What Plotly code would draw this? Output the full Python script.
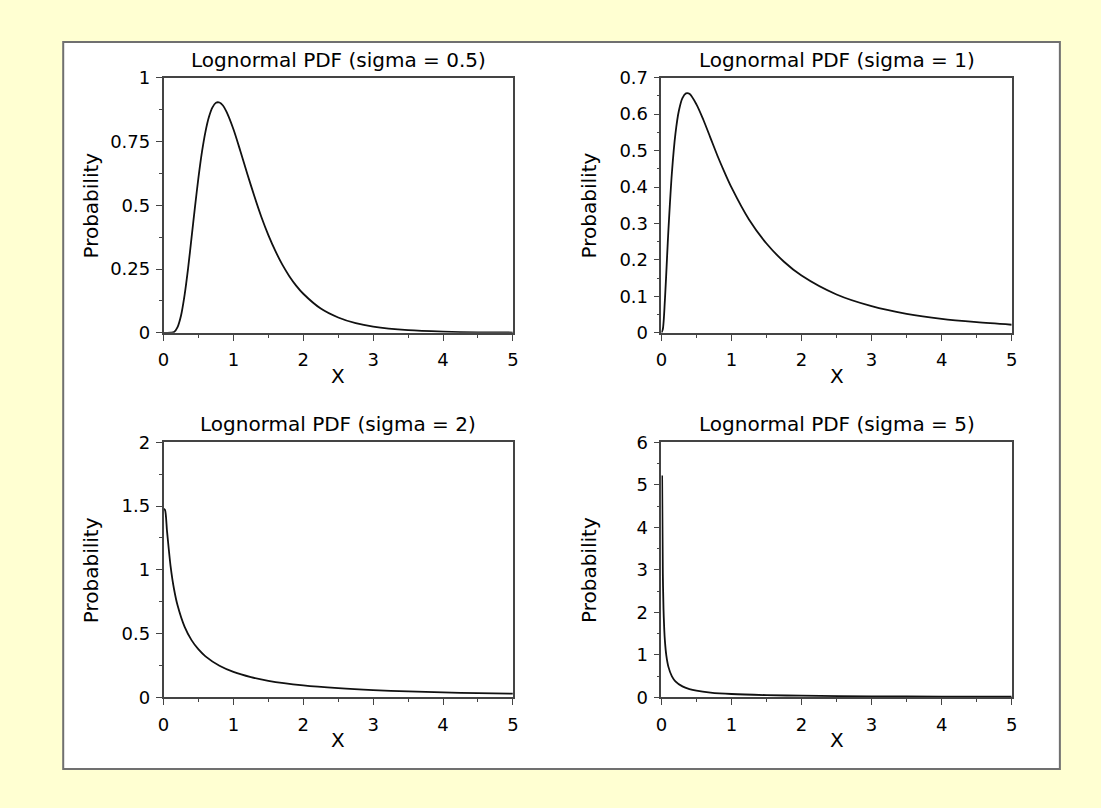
import plotly.graph_objects as go

W, H = 1101, 808

# ---- data ----
titles = ["Lognormal PDF (sigma = 0.5)", "Lognormal PDF (sigma = 1)",
          "Lognormal PDF (sigma = 2)", "Lognormal PDF (sigma = 5)"]

x1 = [0, 0.1, 0.15, 0.2, 0.25, 0.3, 0.35, 0.4, 0.45, 0.5, 0.55, 0.6, 0.65, 0.7, 0.75, 0.8,
      0.85, 0.9, 1.0, 1.1, 1.2, 1.3, 1.4, 1.5, 1.6, 1.7, 1.8, 1.9, 2.0, 2.25, 2.5, 2.75,
      3.0, 3.5, 4.0, 4.5, 5.0]
y1 = [0, 0.0002, 0.003, 0.0225, 0.068, 0.147, 0.251, 0.372, 0.495, 0.61, 0.71, 0.789,
      0.847, 0.884, 0.902, 0.903, 0.891, 0.867, 0.798, 0.712, 0.622, 0.535, 0.454, 0.383,
      0.321, 0.267, 0.222, 0.184, 0.153, 0.095, 0.060, 0.0375, 0.024, 0.010, 0.0043,
      0.0019, 0.0009]

x2 = [0, 0.02, 0.05, 0.08, 0.1, 0.15, 0.2, 0.25, 0.3, 0.35, 0.4, 0.5, 0.6, 0.7, 0.8, 0.9,
      1.0, 1.25, 1.5, 1.75, 2.0, 2.5, 3.0, 3.5, 4.0, 4.5, 5.0]
y2 = [0, 0.0095, 0.090, 0.205, 0.282, 0.440, 0.546, 0.610, 0.644, 0.657, 0.656, 0.627,
      0.584, 0.535, 0.486, 0.441, 0.399, 0.311, 0.245, 0.195, 0.157, 0.105, 0.073, 0.052,
      0.038, 0.029, 0.022]

x3 = [0, 0.02, 0.05, 0.1, 0.15, 0.2, 0.3, 0.4, 0.5, 0.6, 0.8, 1.0, 1.25, 1.5, 2.0, 2.5,
      3.0, 3.5, 4.0, 4.5, 5.0]
y3 = [1.48, 1.47, 1.30, 1.03, 0.848, 0.722, 0.555, 0.449, 0.376, 0.322, 0.248, 0.200,
      0.159, 0.130, 0.094, 0.072, 0.057, 0.047, 0.039, 0.033, 0.029]

x4 = [0.01, 0.02, 0.03, 0.04, 0.05, 0.07, 0.1, 0.15, 0.2, 0.3, 0.4, 0.5, 0.7, 1.0, 1.5,
      2.0, 3.0, 4.0, 5.0]
y4 = [5.22, 2.94, 2.08, 1.62, 1.33, 0.99, 0.718, 0.495, 0.379, 0.258, 0.196, 0.158,
      0.114, 0.080, 0.053, 0.040, 0.026, 0.019, 0.015]

x_ticks = [0, 1, 2, 3, 4, 5]
y_ticks = [
    [0, 0.25, 0.5, 0.75, 1],
    [0, 0.1, 0.2, 0.3, 0.4, 0.5, 0.6, 0.7],
    [0, 0.5, 1, 1.5, 2],
    [0, 1, 2, 3, 4, 5, 6],
]
y_ticktext = [
    ["0", "0.25", "0.5", "0.75", "1"],
    ["0", "0.1", "0.2", "0.3", "0.4", "0.5", "0.6", "0.7"],
    ["0", "0.5", "1", "1.5", "2"],
    ["0", "1", "2", "3", "4", "5", "6"],
]
y_ranges = [[0, 1], [0, 0.7], [0, 2], [0, 6]]
y_minor = [0.125, 0.05, 0.25, 0.5]
x_label = "X"
y_label = "Probability"

# ---- layout geometry (screen pixels) ----
boxes = [  # left, right, top, bottom
    (165, 513, 77, 333),
    (661, 1010, 77, 333),
    (165, 513, 443, 699),
    (661, 1010, 443, 699),
]

# the rendered plotting "paper" sits slightly inset in the page; map screen px -> paper
PX0, PX1 = 8.0, 1093.0
PY0, PY1 = 10.0, 800.0


def px(x):
    return (x - PX0) / (PX1 - PX0)


def py(y):
    return 1 - (y - PY0) / (PY1 - PY0)


FONT = "DejaVu Sans"
AX = "#444444"

fig = go.Figure()
series = [(x1, y1), (x2, y2), (x3, y3), (x4, y4)]
for i, (xs, ys) in enumerate(series):
    sfx = "" if i == 0 else str(i + 1)
    fig.add_trace(go.Scatter(x=xs, y=ys, mode="lines",
                             line=dict(color="#111111", width=1.8, shape="spline", smoothing=0.8),
                             xaxis="x" + sfx, yaxis="y" + sfx, showlegend=False,
                             hoverinfo="skip"))

layout = dict(width=W, height=H, margin=dict(l=0, r=0, t=0, b=0, pad=0),
              paper_bgcolor="#FFFFD2", plot_bgcolor="white", showlegend=False)

annotations = []
for i, (l, r, t, b) in enumerate(boxes):
    sfx = "" if i == 0 else str(i + 1)
    common = dict(showline=True, linecolor=AX, linewidth=1.5, mirror=True,
                  ticks="outside", ticklen=6, tickwidth=1.2, tickcolor=AX,
                  showgrid=False, zeroline=False,
                  tickfont=dict(family=FONT, size=18, color="black"))
    layout["xaxis" + sfx] = dict(common, domain=[px(l), px(r)], range=[0, 5],
                                 anchor="y" + sfx, tickmode="array", tickvals=x_ticks,
                                 ticktext=[str(v) for v in x_ticks],
                                 ticklabelstandoff=4,
                                 minor=dict(tick0=0, dtick=0.5, ticks="outside", ticklen=3,
                                            tickcolor=AX))
    layout["yaxis" + sfx] = dict(common, domain=[py(b), py(t)], range=y_ranges[i],
                                 anchor="x" + sfx, tickmode="array", tickvals=y_ticks[i],
                                 ticktext=y_ticktext[i], ticklabelstandoff=2,
                                 minor=dict(tick0=0, dtick=y_minor[i], ticks="outside",
                                            ticklen=3, tickcolor=AX))
    cx = (l + r) / 2
    annotations.append(dict(text=titles[i], x=px(cx), y=py(t - 18),
                            xref="paper", yref="paper", showarrow=False,
                            xanchor="center", yanchor="middle",
                            font=dict(family=FONT, size=20, color="black")))
    annotations.append(dict(text=x_label, x=px(cx), y=py(b + 43),
                            xref="paper", yref="paper", showarrow=False,
                            xanchor="center", yanchor="middle",
                            font=dict(family=FONT, size=20, color="black")))
    annotations.append(dict(text=y_label, x=px(l - 72), y=py((t + b) / 2),
                            xref="paper", yref="paper", showarrow=False, textangle=-90,
                            xanchor="center", yanchor="middle",
                            font=dict(family=FONT, size=20, color="black")))

layout["annotations"] = annotations
layout["shapes"] = [
    # white panel with grey border
    dict(type="rect", xref="paper", yref="paper", x0=px(65), x1=px(1058),
         y0=py(771), y1=py(41), fillcolor="white",
         line=dict(color="#707070", width=2), layer="below"),
]
fig.update_layout(**layout)
fig.write_html("out.html")
